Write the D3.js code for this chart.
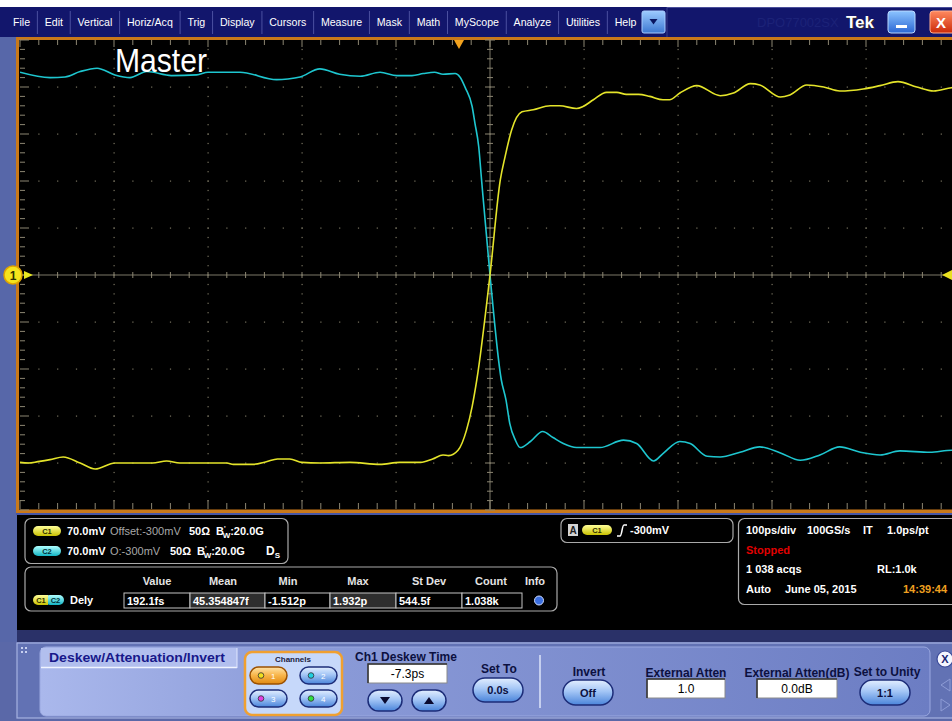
<!DOCTYPE html>
<html><head><meta charset="utf-8">
<script src="https://cdn.jsdelivr.net/npm/d3@7"></script>
<style>
html,body{margin:0;padding:0;background:#fff;overflow:hidden}
svg{display:block;font-family:"Liberation Sans",Arial,sans-serif}
</style></head><body>
<svg id="c" width="952" height="721"></svg>
<script>
// ---------------- data ----------------
const menuItems = ["File","Edit","Vertical","Horiz/Acq","Trig","Display","Cursors","Measure","Mask","Math","MyScope","Analyze","Utilities","Help"];
const timeDomain = [-500, 500];   // ps, 100 ps/div
const voltDomain = [-650, 50];    // mV, 70 mV/div, offset -300 mV
const timeMajor = d3.range(-500, 501, 100);
const timeMinor = d3.range(-500, 501, 20);
const voltMajor = d3.range(-650, 51, 70);
const voltMinor = d3.range(-650, 51, 14);
const ch1Offset = -300;
const triggerTime = -33;
const triggerLevel = -300;

// C2 (cyan, "Master") — time ps / volts mV
const c2Time = [-500,-468,-452,-436,-418,-399,-383,-365,-339,-312,-300,-266,-227,-215,-202,-181,-160,-138,-117,-99,-83,-71,-59,-50,-37,-32,-26,-19,-16,-12,-9,0,12,17,21,27,32,43,56,67,78,92,117,142,156,174,184,202,213,231,245,266,287,309,330,351,372,394,415,436,468,491,500];
const c2Volt = [2,-6,-5,3,8,-2,-6,3,-3,-2,2,2,-9,-8,-5,7,-1,-4,2,-3,-3,0,2,-1,0,-5,-22,-49,-74,-109,-158,-300,-456,-486,-521,-546,-557,-548,-533,-542,-551,-557,-557,-546,-551,-577,-566,-548,-551,-570,-571,-564,-556,-565,-576,-568,-556,-564,-568,-562,-564,-561,-561];
// C1 (yellow)
const c1Time = [-500,-491,-481,-468,-454,-436,-420,-399,-359,-344,-330,-280,-273,-252,-238,-226,-213,-200,-181,-149,-117,-96,-74,-61,-50,-44,-34,-25,-19,-14,0,11,16,23,34,46,64,74,92,99,110,124,135,145,158,170,184,191,202,220,245,259,277,287,309,319,337,355,372,397,415,434,454,472,491,500];
const c1Volt = [-579,-580,-578,-575,-571,-580,-589,-580,-580,-577,-580,-580,-582,-582,-578,-574,-574,-579,-580,-579,-582,-579,-579,-574,-568,-569,-561,-531,-496,-456,-300,-158,-124,-84,-57,-54,-48,-48,-52,-49,-39,-28,-28,-31,-31,-34,-39,-39,-29,-18,-33,-29,-15,-17,-35,-32,-17,-20,-26,-23,-18,-12,-20,-26,-21,-20];

const measHeaders = ["Value","Mean","Min","Max","St Dev","Count","Info"];
const measValues = ["192.1fs","45.354847f","-1.512p","1.932p","544.5f","1.038k"];

// ---------------- drawing ----------------
const svg = d3.select("#c");
const defs = svg.append("defs");
function grad(id, stops, horiz){
  const g = defs.append("linearGradient").attr("id",id).attr("x1",0).attr("y1",0).attr("x2",horiz?1:0).attr("y2",horiz?0:1);
  stops.forEach(([o,c])=>g.append("stop").attr("offset",o).attr("stop-color",c));
}
grad("gBlue", [[0,"#e2eeff"],[0.45,"#a4c6f6"],[1,"#4a84da"]]);
grad("gOrange", [[0,"#ffe4a8"],[0.5,"#f8b448"],[1,"#e08a12"]]);
grad("gYel", [[0,"#ffff9a"],[1,"#c9c100"]]);
grad("gCyan", [[0,"#b0ffff"],[1,"#12b4c4"]]);
grad("gPanel", [[0,"#aab8ec"],[0.3,"#8b9bd8"],[1,"#6c7dc3"]], true);
grad("gMenuBtn", [[0,"#9ccaff"],[1,"#3c78d2"]]);
grad("gMin", [[0,"#8cc4ff"],[1,"#2a66d4"]]);
grad("gClose", [[0,"#ff8a60"],[1,"#cc2a08"]]);

function txt(g, x, y, s, o={}){
  const t = g.append("text").attr("x",x).attr("y",y).text(s)
    .attr("font-size",o.size||11).attr("fill",o.fill||"#fff");
  if(o.bold) t.attr("font-weight","bold");
  if(o.anchor) t.attr("text-anchor",o.anchor);
  if(o.family) t.attr("font-family",o.family);
  if(o.len) t.attr("textLength",o.len).attr("lengthAdjust","spacingAndGlyphs");
  return t;
}
function rect(g,x,y,w,h,fill,o={}){
  const r = g.append("rect").attr("x",x).attr("y",y).attr("width",w).attr("height",h).attr("fill",fill);
  if(o.rx) r.attr("rx",o.rx);
  if(o.stroke) r.attr("stroke",o.stroke).attr("stroke-width",o.sw||1);
  return r;
}

// backgrounds
rect(svg,0,0,952,721,"#ffffff");
rect(svg,0,7,952,31,"#12166c");
rect(svg,0,37,17,684,"#5767a9");
rect(svg,19,40,933,470,"#000000");
rect(svg,16,37,936,3,"#c9791a");
rect(svg,16,37,3,476,"#c9791a");
rect(svg,16,509.5,936,3.5,"#c9791a");
rect(svg,16,513,936,2,"#4656a6");
rect(svg,17,515,935,116,"#000000");
rect(svg,17,630,935,13,"#2a3168");
rect(svg,0,642,952,79,"#5a68a8");
rect(svg,17,643,940,75,"#6272b4",{stroke:"#a6b2e2",sw:1.2});

// ---------------- menu bar ----------------
const mg = svg.append("g");
let mx = 13;
menuItems.forEach((m,i)=>{
  const t = txt(mg, mx, 26, m, {size:10.6});
  const w = t.node().getComputedTextLength();
  if(i < menuItems.length-1){
    const dx = mx + w + 7.3;
    mg.append("line").attr("x1",dx).attr("x2",dx).attr("y1",11).attr("y2",34).attr("stroke","#4b50a0");
    mx = dx + 7.3;
  }
});
rect(mg,642,11,23,22,"url(#gMenuBtn)",{rx:2,stroke:"#a8ccff"});
mg.append("path").attr("d","M649.5,19 L657.5,19 L653.5,24.5 Z").attr("fill","#0a1660");
mg.append("line").attr("x1",667).attr("x2",667).attr("y1",7).attr("y2",37).attr("stroke","#3a3e8a");
mg.append("line").attr("x1",667).attr("x2",952).attr("y1",7.5).attr("y2",7.5).attr("stroke","#4a4e9a");
txt(mg,757,27,"DPO77002SX",{size:13,fill:"#1c2278"});
txt(mg,847,29,"Tek",{size:17,bold:true,fill:"#303030"});
txt(mg,846,28,"Tek",{size:17,bold:true,fill:"#ffffff"});
rect(mg,888,11,27,22,"url(#gMin)",{rx:3,stroke:"#b8d8ff"});
rect(mg,896,25,11,3,"#ffffff");
rect(mg,930,11,27,22,"url(#gClose)",{rx:3,stroke:"#ffb090"});
txt(mg,941,28,"X",{size:15,bold:true,anchor:"middle"});

// ---------------- graticule ----------------
const x = d3.scaleLinear().domain(timeDomain).range([20,960]);
const y = d3.scaleLinear().domain(voltDomain).range([510,40]);
const gg = svg.append("g");
const dotCol = "#7a7562", tickCol = "#8c8672";
const innerTMaj = timeMajor.filter(t=>t>-500 && t<500 && t!==0);
const innerVMaj = voltMajor.filter(v=>v>-650 && v<50 && v!==ch1Offset);
innerTMaj.forEach(t=>{
  voltMinor.filter(v=>v>-650 && v<50).forEach(v=>{
    rect(gg, Math.round(x(t))-0.5, y(v)-0.5, 1.2, 1.2, dotCol);
  });
});
innerVMaj.forEach(v=>{
  timeMinor.filter(t=>t>-500 && t<500).forEach(t=>{
    rect(gg, x(t)-0.5, Math.round(y(v))-0.5, 1.2, 1.2, dotCol);
  });
});
gg.append("line").attr("x1",20).attr("x2",960).attr("y1",y(ch1Offset)).attr("y2",y(ch1Offset)).attr("stroke","#7d7968");
gg.append("line").attr("x1",x(0)).attr("x2",x(0)).attr("y1",40).attr("y2",510).attr("stroke","#7d7968");
timeMinor.forEach(t=>{
  const maj = timeMajor.includes(t);
  gg.append("line").attr("x1",x(t)).attr("x2",x(t)).attr("y1",y(ch1Offset)-3).attr("y2",y(ch1Offset)+3).attr("stroke",tickCol);
  gg.append("line").attr("x1",x(t)).attr("x2",x(t)).attr("y1",40).attr("y2",maj?47:45).attr("stroke",tickCol);
  gg.append("line").attr("x1",x(t)).attr("x2",x(t)).attr("y1",509).attr("y2",maj?500:503).attr("stroke",tickCol);
});
voltMinor.forEach(v=>{
  const maj = voltMajor.includes(v);
  gg.append("line").attr("x1",x(0)-(maj?5:3)).attr("x2",x(0)+(maj?5:3)).attr("y1",y(v)).attr("y2",y(v)).attr("stroke",tickCol);
  gg.append("line").attr("x1",20).attr("x2",maj?29:25).attr("y1",y(v)).attr("y2",y(v)).attr("stroke",tickCol);
});

// ---------------- waveforms ----------------
defs.append("clipPath").attr("id","clipG").append("rect").attr("x",20).attr("y",40).attr("width",940).attr("height",470);
const line = d3.line().x(d=>x(d[0])).y(d=>y(d[1])).curve(d3.curveMonotoneX);
const wg = svg.append("g").attr("clip-path","url(#clipG)");
wg.append("path").attr("d",line(d3.zip(c2Time,c2Volt))).attr("fill","none").attr("stroke","#1ec6cf").attr("stroke-width",1.6);
wg.append("path").attr("d",line(d3.zip(c1Time,c1Volt))).attr("fill","none").attr("stroke","#e4e42a").attr("stroke-width",1.6);

// markers
const xt = x(triggerTime);
svg.append("path").attr("d",`M${xt-5},40 L${xt+5},40 L${xt},49 Z`).attr("fill","#f2a21e");
const yo = y(ch1Offset);
svg.append("path").attr("d",`M24,${yo-4} L33,${yo} L24,${yo+4} Z`).attr("fill","#e8e820");
svg.append("circle").attr("cx",13).attr("cy",yo).attr("r",9).attr("fill","#f6e41c").attr("stroke","#e0a400").attr("stroke-width",1.5);
txt(svg,13,yo+4.5,"1",{size:12,bold:true,fill:"#303000",anchor:"middle"});
const yl = y(triggerLevel);
svg.append("path").attr("d",`M952,${yl-5} L942,${yl} L952,${yl+5} Z`).attr("fill","#e8e020");

txt(svg,115,72,"Master",{size:34,fill:"#ffffff",family:"'Liberation Sans Narrow','Liberation Sans',Arial",len:92});

// ---------------- status panels ----------------
const sg = svg.append("g");
const pan = "#a9a9a9";
function pill(g,px,py,w,h,fill,label,lc){
  rect(g,px,py,w,h,fill,{rx:h/2});
  if(label) txt(g,px+w/2,py+h-2.3,label,{size:7.5,bold:true,fill:lc||"#303000",anchor:"middle"});
}
// panel 1
rect(sg,25,518.5,263,45,"none",{rx:6,stroke:pan,sw:1.2});
pill(sg,33,526,28,10,"url(#gYel)","C1");
txt(sg,67,535,"70.0mV",{bold:true});
txt(sg,110,535,"Offset:-300mV",{fill:"#a8a8a8"});
txt(sg,189,535,"50Ω",{bold:true});
function bw(g,bx,by){
  const t = txt(g,bx,by,"B",{bold:true});
  t.append("tspan").attr("dy",-4).attr("font-size",7).text("'");
  t.append("tspan").attr("dx",-3).attr("dy",7).attr("font-size",8).text("W");
  t.append("tspan").attr("dy",-3).text(":20.0G");
}
bw(sg,216,535);
pill(sg,33,546,28,10,"url(#gCyan)","C2","#003038");
txt(sg,67,555,"70.0mV",{bold:true});
txt(sg,110,555,"O:-300mV",{fill:"#a8a8a8"});
txt(sg,170,555,"50Ω",{bold:true});
bw(sg,197,555);
const ds = txt(sg,266,555,"D",{bold:true,size:12});
ds.append("tspan").attr("dy",3).attr("font-size",8).text("S");

// panel 2 (measurements)
rect(sg,25,567,532,44,"none",{rx:6,stroke:pan,sw:1.2});
const hdrX = [157,223,288,358,429,491,535];
measHeaders.forEach((h,i)=>txt(sg,hdrX[i],585,h,{bold:true,anchor:"middle",fill:"#e4e4e4"}));
rect(sg,33,595,16,10,"url(#gYel)",{rx:5});
rect(sg,45,595,19,10,"url(#gCyan)",{rx:5});
rect(sg,43,595,5,10,"url(#gYel)");
txt(sg,41,603,"C1",{size:7.5,bold:true,fill:"#303000",anchor:"middle"});
txt(sg,55.5,603,"C2",{size:7.5,bold:true,fill:"#003038",anchor:"middle"});
txt(sg,70,604,"Dely",{bold:true});
const cellEdges = [124,190,265,330,396,462,522];
measValues.forEach((v,i)=>{
  const x0 = cellEdges[i], x1 = cellEdges[i+1];
  rect(sg,x0,593,x1-x0,15,(i===1||i===3)?"#2e2e2e":"#000",{stroke:"#c4c4c4",sw:1});
  txt(sg,x0+3,604.5,v,{bold:true});
});
svg.append("circle").attr("cx",539).attr("cy",600.5).attr("r",4.5).attr("fill","#3a6ee0").attr("stroke","#d0dcff");
txt(sg,539,603.3,"?",{size:7,bold:true,fill:"#ff7070",anchor:"middle"});

// panel 3 (trigger)
rect(sg,561,518.5,172,24,"none",{rx:6,stroke:pan,sw:1.2});
rect(sg,568,524,10,12,"#d4d4d4");
txt(sg,573,534,"A",{size:10,bold:true,fill:"#202020",anchor:"middle"});
pill(sg,582,525,30,10,"url(#gYel)","C1");
sg.append("path").attr("d","M617,536 L620,536 C622,536 622,525 624,525 L627,525").attr("fill","none").attr("stroke","#fff").attr("stroke-width",1.5);
txt(sg,630,534,"-300mV",{bold:true});

// panel 4 (horizontal/acq)
rect(sg,738.5,518.5,230,86,"none",{rx:6,stroke:pan,sw:1.2});
txt(sg,746,534,"100ps/div",{bold:true});
txt(sg,807,534,"100GS/s",{bold:true});
txt(sg,863,534,"IT",{bold:true});
txt(sg,887,534,"1.0ps/pt",{bold:true});
txt(sg,746,554,"Stopped",{bold:true,fill:"#e00000"});
txt(sg,746,573,"1 038 acqs",{bold:true});
txt(sg,877,573,"RL:1.0k",{bold:true});
txt(sg,746,593,"Auto",{bold:true});
txt(sg,785,593,"June 05, 2015",{bold:true});
txt(sg,903,593,"14:39:44",{bold:true,fill:"#f0a020"});

// ---------------- bottom control panel ----------------
const bg = svg.append("g");
[[21,647],[25,647],[21,651],[25,651]].forEach(([a,b])=>rect(bg,a,b,2,2,"#c8d0f0"));
rect(bg,40,647,890,69,"url(#gPanel)",{rx:6,stroke:"#9aa8e0"});
rect(bg,41,648,196,19,"#b2bfee");
bg.append("line").attr("x1",41).attr("x2",237).attr("y1",667.5).attr("y2",667.5).attr("stroke","#f0f4ff").attr("stroke-width",1.5);
bg.append("line").attr("x1",237).attr("x2",237).attr("y1",648).attr("y2",668).attr("stroke","#e0e6ff");
txt(bg,49,662,"Deskew/Attenuation/Invert",{size:13,bold:true,fill:"#18188a",len:176});

rect(bg,245,652,97,63,"#c6d8fa",{rx:7,stroke:"#f0a030",sw:2.5});
txt(bg,293,662,"Channels",{size:8,bold:true,fill:"#1a1a40",anchor:"middle"});
const chBtns = [["1",250,667,"url(#gOrange)","#9a5000","#f0e020"],["2",300,667,"url(#gBlue)","#1c2c78","#20d0e0"],
                ["3",250,690,"url(#gBlue)","#1c2c78","#e040e0"],["4",300,690,"url(#gBlue)","#1c2c78","#30e040"]];
chBtns.forEach(([n,bx,by,f,s,dc])=>{
  rect(bg,bx,by,37,17,f,{rx:8.5,stroke:s,sw:1.5});
  bg.append("circle").attr("cx",bx+11).attr("cy",by+8.5).attr("r",2.8).attr("fill",dc).attr("stroke","#303030").attr("stroke-width",0.8);
  txt(bg,bx+21,by+11.5,n,{size:8,fill:"#ffffff"});
});

function btn(g,bx,by,w,h,label){
  rect(g,bx,by,w,h,"url(#gBlue)",{rx:h/2,stroke:"#1c2c78",sw:1.5});
  if(label) txt(g,bx+w/2,by+h/2+4,label,{size:11,bold:true,fill:"#0c1040",anchor:"middle"});
}
function inbox(g,bx,by,w,h,label){
  rect(g,bx,by,w,h,"#ffffff",{stroke:"#8a8a8a"});
  g.append("path").attr("d",`M${bx},${by+h} L${bx},${by} L${bx+w},${by}`).attr("fill","none").attr("stroke","#303030").attr("stroke-width",1.5);
  txt(g,bx+w/2,by+h-5,label,{size:12,fill:"#000",anchor:"middle"});
}
const hc = "#0c1040";
txt(bg,406,661,"Ch1 Deskew Time",{size:12,bold:true,fill:hc,anchor:"middle"});
inbox(bg,368,664,79,19,"-7.3ps");
btn(bg,368,690,34,21,null);
btn(bg,412,690,34,21,null);
bg.append("path").attr("d","M380,697 L390,697 L385,704 Z").attr("fill","#0a0a30");
bg.append("path").attr("d","M424,704 L434,704 L429,697 Z").attr("fill","#0a0a30");

txt(bg,499,673,"Set To",{size:12,bold:true,fill:hc,anchor:"middle"});
btn(bg,473,678,50,24,"0.0s");
bg.append("line").attr("x1",540).attr("x2",540).attr("y1",655).attr("y2",708).attr("stroke","#dde4fa").attr("stroke-width",1.5);
txt(bg,589,676,"Invert",{size:12,bold:true,fill:hc,anchor:"middle"});
btn(bg,563,680,50,25,"Off");
txt(bg,686,677,"External Atten",{size:12,bold:true,fill:hc,anchor:"middle"});
inbox(bg,647,679,78,19,"1.0");
txt(bg,797,677,"External Atten(dB)",{size:12,bold:true,fill:hc,anchor:"middle"});
inbox(bg,757,679,80,19,"0.0dB");
txt(bg,887,676,"Set to Unity",{size:12,bold:true,fill:hc,anchor:"middle"});
btn(bg,860,680,50,25,"1:1");

bg.append("circle").attr("cx",945).attr("cy",659).attr("r",8).attr("fill","#f4f6ff").attr("stroke","#3a4a9a").attr("stroke-width",1.2);
txt(bg,945,663,"X",{size:11,bold:true,fill:"#1a2470",anchor:"middle"});
bg.append("path").attr("d","M950,679 L941,685 L950,691 Z").attr("fill","none").attr("stroke","#8e9cd6");
bg.append("path").attr("d","M941,699 L950,705 L941,711 Z").attr("fill","none").attr("stroke","#8e9cd6");
</script>
</body></html>
